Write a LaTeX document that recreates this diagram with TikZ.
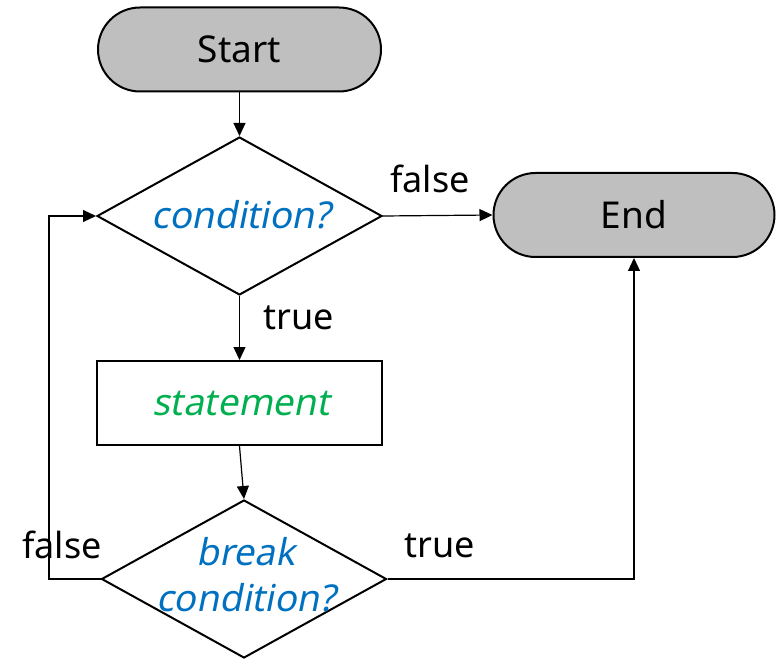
\documentclass[tikz,border=0pt]{standalone}
\usepackage{fontspec}
\setmainfont{Noto Sans}
\newfontfamily\slantfont[FakeSlant=0.2]{Noto Sans}
\usetikzlibrary{shapes.geometric,arrows.meta}
\definecolor{termgrey}{HTML}{BFBFBF}
\definecolor{condblue}{HTML}{0070C0}
\definecolor{stmtgreen}{HTML}{00B050}
\begin{document}
\begin{tikzpicture}[x=1pt,y=-1pt,
  bigtext/.style={font=\fontsize{36}{46}\selectfont},
  terminal/.style={draw, line width=2pt, fill=termgrey, rounded corners=42pt,
    minimum width=283pt, minimum height=84pt, inner sep=0pt,
    font=\fontsize{37}{46}\selectfont},
  decision/.style={draw, diamond, line width=2pt, minimum width=285pt,
    minimum height=158pt, inner sep=0pt},
  process/.style={draw, line width=2pt, minimum width=285pt,
    minimum height=84pt, inner sep=0pt},
  condtext/.style={font=\fontsize{37}{46}\selectfont\slantfont,
    text=condblue, align=center},
  stmttext/.style={font=\fontsize{37}{46}\selectfont\slantfont,
    text=stmtgreen},
  lbl/.style={bigtext, anchor=base},
  flow/.style={line width=1.2pt, -{Triangle[length=13pt,width=12pt]}}
]
\useasboundingbox (0,0) rectangle (776,660);

% shapes
\node[terminal] (start) at (239.5,49.5) {Start};
\node[decision] (cond1) at (239.5,216) {};
\node[condtext] (cond1text) at (241,215) {condition?};
\node[terminal, minimum width=281pt] (end) at (634,215) {End};
\node[process] (stmt) at (239.5,403) {};
\node[stmttext] (stmttext) at (241,403) {statement};
\node[decision] (cond2) at (244,579) {};
\node[condtext] (cond2text) at (246,575) {break\\condition?};

% loop-back corner on the left
\coordinate (backtop) at (49,216);

% connectors
\draw[flow] (start.south) -- (cond1.north);
\draw[flow] (cond1.east) -- (end.west);
\draw[flow] (cond1.south) -- (stmt.north);
\draw[flow] (stmt.south) -- (cond2.north);
\draw[flow] (cond2.east) -| (end.south);
\draw[flow] (cond2.west) -| (backtop) -- (cond1.west);

% branch labels
\node[lbl] (lfalse1) at (430,193) {false};
\node[lbl] (ltrue1) at (299,329) {true};
\node[lbl] (ltrue2) at (440,557) {true};
\node[lbl] (lfalse2) at (62,558) {false};
\end{tikzpicture}
\end{document}
